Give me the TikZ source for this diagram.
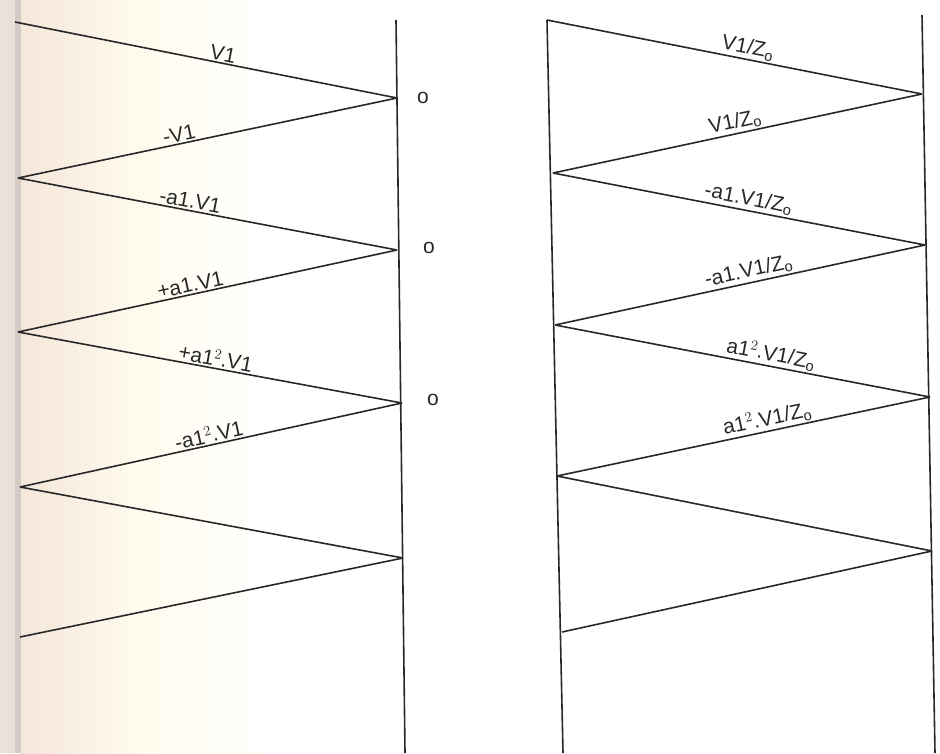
\documentclass[tikz,border=0pt]{standalone}
\usepackage{fontspec}
\setmainfont{Liberation Sans}
\definecolor{ink}{RGB}{40,40,40}
\definecolor{peach}{RGB}{245,230,218}
\definecolor{cream}{RGB}{255,252,238}
\definecolor{edgebg}{RGB}{234,226,218}
\definecolor{edgeline}{RGB}{212,202,196}
\begin{document}
\begin{tikzpicture}[x=1pt,y=-1pt,
  wire/.style={draw=ink,line width=1.6pt},
  lbl/.style={sloped,above,inner sep=1.5pt,font=\fontsize{21}{24}\selectfont,text=ink},
  omark/.style={font=\fontsize{21}{24}\selectfont,text=ink,inner sep=0pt}]
\useasboundingbox (0,0) rectangle (940,753);
\fill[white] (0,0) rectangle (940,753);
% paper-edge background
\shade[left color=peach,right color=white,middle color=cream] (20,0) rectangle (270,753);
\fill[edgebg] (0,0) rectangle (15,753);
\fill[edgeline] (15,0) rectangle (21,753);

% ---- left diagram ----
\coordinate (L0) at (15,22);
\coordinate (R1) at (397,98);
\coordinate (L1) at (18,178);
\coordinate (R2) at (397,250);
\coordinate (L2) at (18,332);
\coordinate (R3) at (402,403);
\coordinate (L3) at (20,487);
\coordinate (R4) at (403,558);
\coordinate (L4) at (20,637);
\coordinate (RT) at (396,20);
\coordinate (RB) at (405,753);
\draw[wire] (RT) -- (RB);
\draw[wire] (L0) -- node[lbl,pos=0.54]{V1} (R1);
\draw[wire] (R1) -- node[lbl,pos=0.57]{-V1} (L1);
\draw[wire] (L1) -- node[lbl,pos=0.45]{-a1.V1} (R2);
\draw[wire] (R2) -- node[lbl,pos=0.54]{+a1.V1} (L2);
\draw[wire] (L2) -- node[lbl,pos=0.51]{+a1$^2$.V1} (R3);
\draw[wire] (R3) -- node[lbl,pos=0.50]{-a1$^2$.V1} (L3);
\draw[wire] (L3) -- (R4);
\draw[wire] (R4) -- (L4);
\node[omark] (o1) at (423,98) {o};
\node[omark] (o2) at (429,248) {o};
\node[omark] (o3) at (433,400) {o};

% ---- right diagram ----
\coordinate (A0) at (547,20);
\coordinate (B1) at (922,94);
\coordinate (A1) at (553,173);
\coordinate (B2) at (925,245);
\coordinate (A2) at (555,325);
\coordinate (B3) at (930,397);
\coordinate (A3) at (557,476);
\coordinate (B4) at (932,551);
\coordinate (A4) at (562,632);
\coordinate (AB) at (563,753);
\coordinate (BT) at (922,15);
\coordinate (BB) at (935,753);
\draw[wire] (A0) -- (AB);
\draw[wire] (BT) -- (BB);
\draw[wire] (A0) -- node[lbl,pos=0.53]{V1/Z\textsubscript{o}} (B1);
\draw[wire] (B1) -- node[lbl,pos=0.50]{V1/Z\textsubscript{o}} (A1);
\draw[wire] (A1) -- node[lbl,pos=0.52]{-a1.V1/Z\textsubscript{o}} (B2);
\draw[wire] (B2) -- node[lbl,pos=0.47]{-a1.V1/Z\textsubscript{o}} (A2);
\draw[wire] (A2) -- node[lbl,pos=0.57]{a1$^2$.V1/Z\textsubscript{o}} (B3);
\draw[wire] (B3) -- node[lbl,pos=0.43]{a1$^2$.V1/Z\textsubscript{o}} (A3);
\draw[wire] (A3) -- (B4);
\draw[wire] (B4) -- (A4);
\end{tikzpicture}
\end{document}
